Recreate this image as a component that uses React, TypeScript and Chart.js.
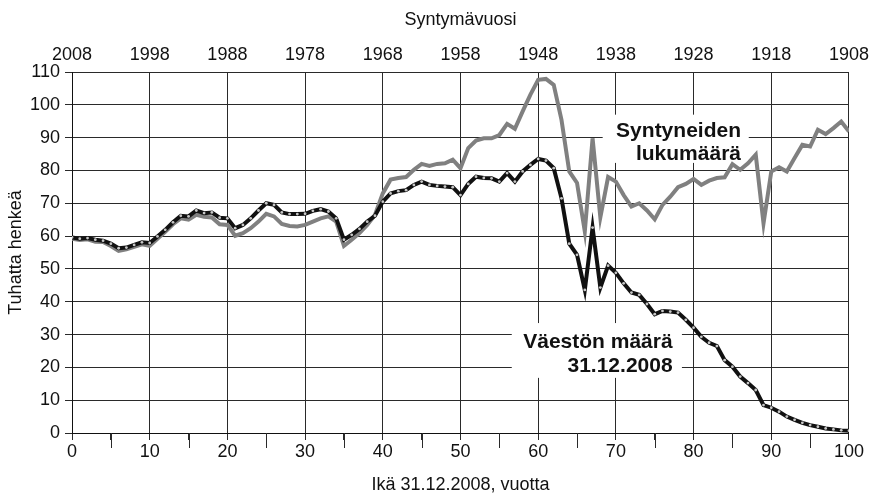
import React, { useEffect, useRef } from 'react';
import { Chart, registerables } from 'chart.js';

Chart.register(...registerables);

// Age categories 0..100
const ages: number[] = Array.from({ length: 101 }, (_, i) => i);

// Population 31.12.2008 by age (thousands)
const population: number[] = [
  59.6, 59.2, 59.4, 58.9, 58.6, 57.7, 56.3, 56.5, 57.3, 58.1,
  57.9, 59.9, 61.9, 64.2, 66.2, 66.0, 67.8, 67.0, 67.2, 65.6,
  65.4, 62.4, 63.4, 65.4, 67.8, 70.0, 69.5, 67.2, 66.7, 66.7,
  66.8, 67.7, 68.2, 67.5, 65.4, 58.9, 60.4, 62.2, 64.4, 66.2,
  70.5, 73.0, 73.7, 74.0, 75.6, 76.6, 75.6, 75.3, 75.1, 74.9,
  72.5, 75.9, 78.1, 77.7, 77.6, 76.6, 79.2, 76.6, 79.7, 81.7,
  83.5, 83.0, 80.7, 71.5, 57.7, 54.3, 43.6, 62.6, 44.3, 51.0,
  48.8, 45.6, 42.8, 42.1, 39.3, 36.2, 37.2, 37.0, 36.7, 34.5,
  32.1, 29.3, 27.5, 26.5, 22.2, 20.2, 17.2, 15.2, 13.1, 8.5,
  7.7, 6.5, 5.0, 4.0, 3.1, 2.4, 1.9, 1.4, 1.1, 0.8,
  0.7,
];

// Number of births in the birth year (thousands)
const births: number[] = [
  59.2, 58.8, 59.0, 58.3, 58.2, 57.0, 55.5, 56.0, 56.7, 57.5,
  57.0, 59.2, 61.3, 63.6, 65.4, 65.0, 66.5, 65.9, 65.7, 63.6,
  63.4, 60.1, 60.9, 62.4, 64.4, 66.8, 66.0, 63.7, 63.1, 62.9,
  63.4, 64.4, 65.4, 66.0, 64.4, 57.0, 58.9, 60.9, 63.4, 66.5,
  73.0, 77.2, 77.7, 78.0, 80.2, 82.0, 81.4, 82.0, 82.2, 83.3,
  80.7, 86.8, 89.1, 89.8, 89.8, 90.8, 94.2, 92.7, 98.0, 103.1,
  107.6, 107.9, 106.1, 95.4, 79.7, 76.2, 61.4, 89.8, 65.7, 78.0,
  76.6, 72.5, 69.0, 70.0, 67.8, 65.1, 69.5, 72.0, 74.9, 75.9,
  77.4, 75.6, 76.9, 77.7, 77.9, 81.9, 80.2, 82.2, 84.8, 63.9,
  79.7, 81.0, 79.7, 83.8, 87.8, 87.3, 92.4, 91.1, 92.9, 94.9,
  91.9,
];

const referenceYear = 2008;
const birthsLabel = ['Syntyneiden', 'lukumäärä'];
const populationLabel = ['Väestön määrä', '31.12.2008'];
const topTitle = 'Syntymävuosi';
const bottomTitle = 'Ikä 31.12.2008, vuotta';
const leftTitle = 'Tuhatta henkeä';

const FONT = '"Liberation Sans", Arial, Helvetica, sans-serif';
const GRID = '#2a2a2a';
const AXIS_FONT = 18;

export default function App() {
  const ref = useRef<HTMLCanvasElement | null>(null);

  useEffect(() => {
    if (!ref.current) return;
    Chart.defaults.font.family = FONT;

    const annotations = {
      id: 'annotations',
      beforeDatasetsDraw(chart: any) {
        const { ctx } = chart;
        const xs = chart.scales.x;
        const ys = chart.scales.y;
        const px = (v: number) => xs.getPixelForValue(v);
        const py = (v: number) => ys.getPixelForValue(v);
        ctx.save();
        ctx.fillStyle = '#ffffff';
        // box for births label
        ctx.fillRect(px(68.3), py(97), px(87.1) - px(68.3), py(82.3) - py(97));
        // box for population label
        ctx.fillRect(px(56.6), py(33.5), px(78.5) - px(56.6), py(16.8) - py(33.5));
        ctx.fillStyle = '#111111';
        ctx.font = `bold 21px ${FONT}`;
        ctx.textAlign = 'right';
        ctx.textBaseline = 'alphabetic';
        ctx.fillText(birthsLabel[0], px(86.1), py(90.1));
        ctx.fillText(birthsLabel[1], px(86.1), py(83.2));
        ctx.fillText(populationLabel[0], px(77.3), py(25.8));
        ctx.fillText(populationLabel[1], px(77.3), py(18.7));
        ctx.restore();
      },
      afterDraw(chart: any) {
        // longer minor tick marks on the age axis
        const { ctx } = chart;
        const xs = chart.scales.x;
        const bottom = chart.chartArea.bottom;
        ctx.save();
        ctx.strokeStyle = GRID;
        ctx.lineWidth = 1;
        ages.forEach((a) => {
          if (a % 5 === 0 && a % 10 !== 0) {
            const x = Math.round(xs.getPixelForValue(a)) + 0.5;
            ctx.beginPath();
            ctx.moveTo(x, bottom);
            ctx.lineTo(x, bottom + 15);
            ctx.stroke();
          }
        });
        ctx.restore();
      },
    };

    const chart = new Chart(ref.current, {
      type: 'line',
      data: {
        datasets: [
          {
            label: populationLabel.join(' '),
            data: ages.map((a, i) => ({ x: a, y: population[i] })),
            borderColor: '#111111',
            borderWidth: 4,
            pointRadius: 1.4,
            pointHoverRadius: 0,
            pointBackgroundColor: '#c8c8c8',
            pointBorderWidth: 0,
            tension: 0,
            order: 0,
          },
          {
            label: birthsLabel.join(' '),
            data: ages.map((a, i) => ({ x: a, y: births[i] })),
            borderColor: '#808080',
            borderWidth: 4,
            pointRadius: 0,
            pointHoverRadius: 0,
            tension: 0,
            order: 1,
          },
        ],
      },
      options: {
        responsive: false,
        animation: false,
        events: [],
        layout: { padding: { left: 0, right: 21, top: 0, bottom: 0 } },
        plugins: {
          legend: { display: false },
          tooltip: { enabled: false },
        },
        scales: {
          x: {
            type: 'linear',
            position: 'bottom',
            min: 0,
            max: 100,
            afterFit: (s: any) => { s.height = 65; },
            ticks: {
              stepSize: 5,
              autoSkip: false,
              maxRotation: 0,
              padding: 1,
              color: '#111',
              font: { size: AXIS_FONT },
              callback: (v: any) => (Number(v) % 10 === 0 ? String(v) : ''),
            },
            grid: {
              color: (c: any) => (c.tick && c.tick.value % 10 === 0 ? GRID : 'rgba(0,0,0,0)'),
              tickColor: GRID,
              tickLength: 7,
              lineWidth: 1,
            },
            border: { display: true, color: '#111', width: 1 },
            title: {
              display: true,
              text: bottomTitle,
              color: '#111',
              font: { size: AXIS_FONT },
              padding: { top: 0, bottom: 2 },
            },
          },
          xTop: {
            type: 'linear',
            position: 'top',
            min: 0,
            max: 100,
            afterFit: (s: any) => { s.height = 72; },
            ticks: {
              stepSize: 10,
              autoSkip: false,
              maxRotation: 0,
              padding: 6,
              color: '#111',
              font: { size: AXIS_FONT },
              callback: (v: any) => String(referenceYear - Number(v)),
            },
            grid: { display: false, drawTicks: false },
            border: { display: false },
            title: {
              display: true,
              text: topTitle,
              color: '#111',
              font: { size: AXIS_FONT },
              padding: { top: 9, bottom: 0 },
            },
          },
          y: {
            type: 'linear',
            min: 0,
            max: 110,
            afterFit: (s: any) => { s.width = 72; },
            ticks: {
              stepSize: 10,
              padding: 5,
              color: '#111',
              font: { size: AXIS_FONT },
            },
            grid: {
              color: GRID,
              tickColor: GRID,
              tickLength: 7,
              lineWidth: 1,
            },
            border: { display: true, color: '#111', width: 1 },
            title: {
              display: true,
              text: leftTitle,
              color: '#111',
              font: { size: AXIS_FONT },
              padding: { top: 5, bottom: 0 },
            },
          },
        },
      },
      plugins: [annotations],
    } as any);

    return () => chart.destroy();
  }, []);

  return (
    <div style={{ position: 'absolute', left: 0, top: 0, width: 875, height: 498, background: '#fff' }}>
      <canvas ref={ref} width={875} height={498} style={{ display: 'block' }} />
    </div>
  );
}
